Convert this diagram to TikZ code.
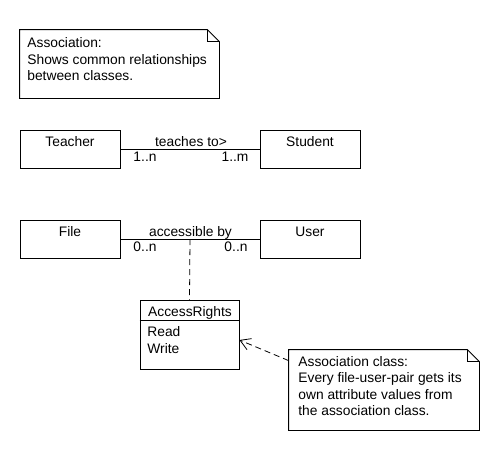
\documentclass[tikz,border=0pt]{standalone}
\usepackage{fontspec}
\setmainfont{Liberation Sans}
\usetikzlibrary{arrows.meta}
\begin{document}
\begin{tikzpicture}[x=1pt,y=-1pt,
  font=\fontsize{13.8}{16.5}\selectfont,
  every path/.style={line width=0.8pt},
  cls/.style={draw, minimum width=100pt, minimum height=38pt, inner sep=0pt},
  txt/.style={inner sep=0pt, anchor=base},
  ntxt/.style={inner sep=0pt, anchor=base west, align=left},
  mydash/.style={dash pattern=on 6pt off 4pt}]
\useasboundingbox[fill=white] (0,0) rectangle (500,450);

% Note 1
\node[minimum width=199pt, minimum height=68pt, inner sep=0pt] (n1) at (119.5,64) {};
\draw (n1.north west) -- ([xshift=-12pt]n1.north east) -- ([yshift=-12pt]n1.north east) -- (n1.south east) -- (n1.south west) -- cycle;
\draw ([xshift=-12pt]n1.north east) -- ([xshift=-12pt,yshift=-12pt]n1.north east) -- ([yshift=-12pt]n1.north east);
\node[ntxt] (n1t) at (27,80.5) {Association:\\Shows common relationships\\between classes.};

% Teacher / Student
\node[cls] (teacher) at (70,149) {};
\node[cls] (student) at (310,149) {};
\node[txt] (teachert) at (70,146.7) {Teacher};
\node[txt] (studentt) at (310,146.7) {Student};
\draw (teacher.east) -- (student.west);
\node[txt] (teaches) at (191,146.7) {teaches to>};
\node[txt] (m1) at (145,161) {1..n};
\node[txt] (m2) at (235,161) {1..m};

% File / User
\node[cls] (file) at (70,239) {};
\node[cls] (user) at (310,239) {};
\node[txt] (filet) at (70,236.7) {File};
\node[txt] (usert) at (310,236.7) {User};
\draw (file.east) -- coordinate (mid) (user.west);
\node[txt] (acc) at (190.5,236.7) {accessible by};
\node[txt] (m3) at (145,251) {0..n};
\node[txt] (m4) at (236,251) {0..n};

% AccessRights
\node[draw, minimum width=99pt, minimum height=69pt, inner sep=0pt] (ar) at (189.5,334.5) {};
\draw ([yshift=-21pt]ar.north west) -- ([yshift=-21pt]ar.north east);
\node[txt] (art) at (190,316.7) {AccessRights};
\node[ntxt] (arattr) at (147,353.2) {Read\\Write};
\draw[mydash] (mid) -- (ar.north);

% Note 2
\node[minimum width=190pt, minimum height=80pt, inner sep=0pt] (n2) at (384,390) {};
\draw (n2.north west) -- ([xshift=-12pt]n2.north east) -- ([yshift=-12pt]n2.north east) -- (n2.south east) -- (n2.south west) -- cycle;
\draw ([xshift=-12pt]n2.north east) -- ([xshift=-12pt,yshift=-12pt]n2.north east) -- ([yshift=-12pt]n2.north east);
\node[ntxt] (n2t) at (298,415.5) {Association class:\\Every file-user-pair gets its\\own attribute values from\\the association class.};
\draw[mydash, -{Straight Barb[length=10pt,width=12pt]}] ([yshift=-11pt]n2.north west) -- ([yshift=-5.5pt]ar.east);
\end{tikzpicture}
\end{document}
